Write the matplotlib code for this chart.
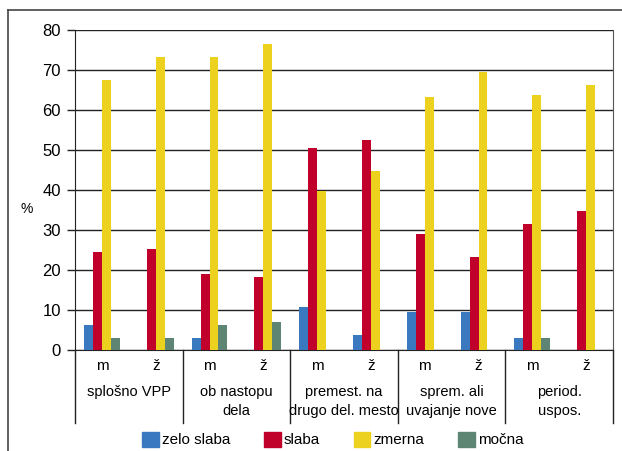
import numpy as np
import matplotlib
matplotlib.use('Agg')
import matplotlib.pyplot as plt
from matplotlib.lines import Line2D

# ── Data ──────────────────────────────────────────────────────────────────────

groups = ['splošno VPP', 'ob nastopu\ndela', 'premest. na\ndrugo del. mesto',
          'sprem. ali\nuvajanje nove', 'period.\nuspos.']
sexes = ['m', 'ž']
series = ['zelo slaba', 'slaba', 'zmerna', 'močna']

zelo_slaba = [6.3, 0, 3.1, 0, 10.8, 3.8, 9.4, 9.4, 3.1, 0]
slaba      = [24.6, 25.2, 19.0, 18.2, 50.4, 52.4, 29.0, 23.3, 31.6, 34.7]
zmerna     = [67.5, 73.2, 73.2, 76.5, 39.8, 44.8, 63.2, 69.5, 63.7, 66.2]
mocna      = [3.1, 3.1, 6.3, 7.0, 0, 0, 0, 0, 3.1, 0]

colors = ['#3a78c0', '#c0002a', '#ecd21e', '#5e8473']

plt.rcParams['font.family'] = ['Liberation Sans', 'DejaVu Sans']

# ── Figure ────────────────────────────────────────────────────────────────────

fig = plt.figure(figsize=(6.22, 4.51), dpi=100)
ax = fig.add_axes([75 / 622, 101 / 451, 538 / 622, 320 / 451])

n = len(groups) * len(sexes)
x = np.arange(n)
w = 1 / 6
for i, (vals, c, lab) in enumerate(zip([zelo_slaba, slaba, zmerna, mocna], colors, series)):
    ax.bar(x + (i - 1.5) * w, vals, w, color=c, label=lab, zorder=3)

ax.set_xlim(-0.5, n - 0.5)
ax.set_ylim(0, 80)
ax.set_yticks(range(0, 81, 10))
ax.tick_params(axis='y', labelsize=12, length=6, width=1, color='#222', pad=4)
ax.yaxis.grid(True, color='#222', linewidth=1, zorder=0)
ax.set_axisbelow(True)

ax.set_xticks([])
ax.spines['top'].set_visible(False)
ax.spines['bottom'].set_color('#222')
ax.spines['left'].set_color('#222')
ax.spines['right'].set_color('#555')

# sex labels and group labels under the axis
trans = ax.get_xaxis_transform()
for k in range(n):
    ax.text(x[k], -0.05, sexes[k % 2], transform=trans, ha='center', va='center', fontsize=11)
for g, name in enumerate(groups):
    ax.text(2 * g + 0.5, -0.11, name, transform=trans, ha='center', va='top',
            fontsize=10.5, linespacing=1.4)

# separator lines between groups
for b in np.arange(-0.5, n, 2):
    ax.plot([b, b], [0, -0.228], transform=trans, color='#222', lw=1, clip_on=False)

ax.text(-0.09, 0.44, '%', transform=ax.transAxes, ha='center', va='center', fontsize=10)

# legend
handles = [plt.Rectangle((0, 0), 1, 1, color=c) for c in colors]
fig.legend(handles, series, loc='center', bbox_to_anchor=(0.535, 0.025), ncol=4,
           frameon=False, fontsize=11, handlelength=1.1, handleheight=1.1,
           handletextpad=0.2, columnspacing=2.2)

# outer frame (top and left)
fig.add_artist(Line2D([8 / 622, 1], [1 - 10 / 451, 1 - 10 / 451], color='#444', lw=1.2))
fig.add_artist(Line2D([8 / 622, 8 / 622], [0, 1 - 10 / 451], color='#444', lw=1.2))

fig.savefig('out.png', dpi=100)
